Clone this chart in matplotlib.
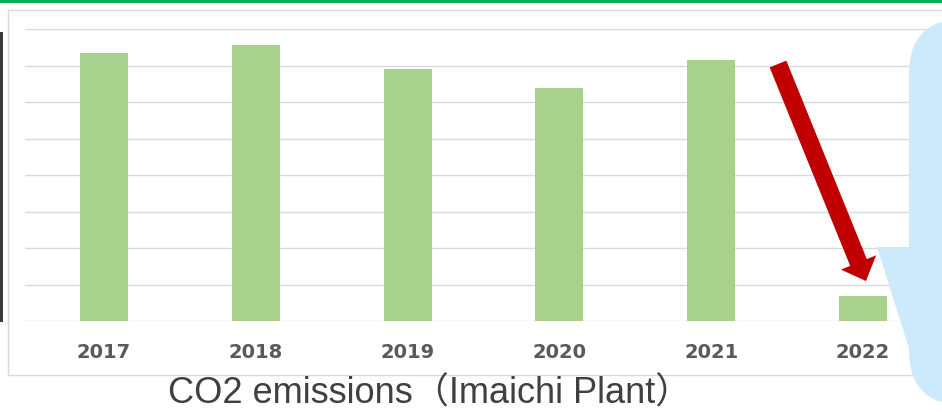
import matplotlib
matplotlib.use('Agg')
import matplotlib.pyplot as plt
import matplotlib.patches as patches
from matplotlib.path import Path
from matplotlib.transforms import IdentityTransform

# data (gridline units, no y labels shown)
years = ['2017', '2018', '2019', '2020', '2021', '2022']
emissions = [7.34, 7.56, 6.90, 6.38, 7.15, 0.68]

W, H = 942, 412
fig = plt.figure(figsize=(W / 100, H / 100), dpi=100)
px = IdentityTransform()  # display pixels, origin bottom-left


def fx(x):
    return x / W


def fy(y):
    return 1 - y / H


def add(p):
    fig.patches.append(p)

# top green rule
add(patches.Rectangle((0, H - 3), W, 3, transform=px, facecolor='#00b050',
                      edgecolor='none', zorder=-2))
# dark edge of a photo at far left
add(patches.Rectangle((0, H - 322), 3, 290, transform=px, facecolor='#3a3a3a',
                      edgecolor='none', zorder=-2))
# chart frame
add(patches.Rectangle((8, H - 375), 1000, 365, transform=px, facecolor='white',
                      edgecolor='#d9d9d9', linewidth=1.0, zorder=-1))

# plot area: baseline y=321, top gridline y=29, from x=25 to 942
ax = fig.add_axes([fx(25), fy(321), fx(942) - fx(25), (321 - 29) / H])
ax.set_zorder(1)
ax.set_facecolor('none')
x = range(len(years))
ax.bar(x, emissions, width=0.316, color='#a9d18e', zorder=3)
ax.set_xlim((25 - 104) / 151.8, (942 - 104) / 151.8)
ax.set_ylim(0, 8)
ax.set_yticks(range(0, 9))
ax.yaxis.grid(True, color='#d9d9d9', linewidth=1.0, zorder=0)
ax.set_axisbelow(True)
ax.tick_params(axis='y', left=False, labelleft=False)
ax.set_xticks(list(x))
ax.set_xticklabels(years, fontsize=14, fontweight='bold', color='#595959',
                   family='DejaVu Sans')
ax.tick_params(axis='x', length=0, pad=15.5)
for s in ax.spines.values():
    s.set_visible(False)

# overlay axes in pixel space for the arrow and callout
ov = fig.add_axes([0, 0, 1, 1])
ov.set_zorder(2)
ov.set_xlim(0, W)
ov.set_ylim(H, 0)
ov.axis('off')

# red arrow pointing down to 2022
ov.add_patch(patches.FancyArrow(778, 64, 866 - 778, 281 - 64, width=18,
                                head_width=38, head_length=20,
                                length_includes_head=True,
                                facecolor='#c00000', edgecolor='none'))

# light blue callout on the right
blue = '#cdeafc'
ov.add_patch(patches.FancyBboxPatch((909, 19), 120, 386,
                                    boxstyle='round,pad=0,rounding_size=55',
                                    facecolor=blue, edgecolor='none'))
tail = Path([(877, 247), (912, 247), (912, 358), (877, 247)],
            [Path.MOVETO, Path.LINETO, Path.LINETO, Path.CLOSEPOLY])
ov.add_patch(patches.PathPatch(tail, facecolor=blue, edgecolor='none'))

ov.text(430, 394, 'CO2 emissions（Imaichi Plant）', ha='center', va='center',
        fontsize=26, color='#404040', family=['Liberation Sans', 'Noto Sans CJK JP'])

fig.savefig('out.png', dpi=100)
